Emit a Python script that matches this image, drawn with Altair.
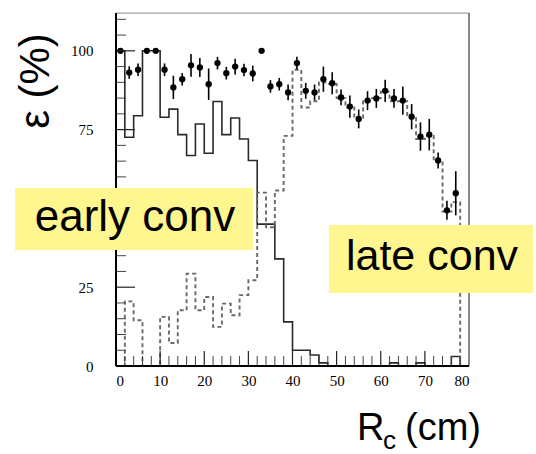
import altair as alt
import pandas as pd

# Histogram bins of 2 cm in conversion radius
bin_lo = list(range(0, 80, 2))

# Early-conversion efficiency per bin (%), solid histogram
early_conv = [100, 72.6, 79.4, 100, 100, 78.9, 81.5, 73.4, 66.8, 76.8,
              67.5, 83.9, 73.4, 78.7, 72.0, 65.2, 45.0, 45.0, 34.0, 14.0,
              5.0, 5.0, 3.5, 1.0, 0, 0, 0, 0, 0, 0,
              0, 1.0, 0, 0, 1.0, 0, 0, 0, 3.0, 0]

# Late-conversion efficiency per bin (%), dashed histogram
late_conv = [0, 20.5, 14.5, 0, 0, 15.6, 7.3, 17.7, 29.3, 17.7,
             21.9, 12.4, 19.8, 16.1, 22.5, 27.2, 55.0, 44.0, 55.7, 73.0,
             94.0, 82.0, 84.0, 90.0, 89.5, 85.0, 82.0, 78.5, 84.0, 85.0,
             87.0, 84.0, 84.0, 79.0, 72.0, 73.0, 65.0, 49.0, 52.0, 0]

# Total efficiency at bin centres with statistical errors (%)
pt_r = list(range(1, 79, 2))
eff = [100, 93.1, 94.0, 100, 100, 94.0, 88.4, 91.0, 95.4, 94.7,
       89.4, 96.1, 92.9, 95.0, 93.9, 92.8, 100, 88.7, 89.4, 86.8,
       96.1, 87.3, 86.8, 91.0, 89.7, 85.2, 82.3, 78.4, 84.2, 84.9,
       87.3, 84.9, 84.2, 79.1, 72.8, 73.4, 65.2, 49.4, 54.8]
eff_err = [0, 2.0, 2.0, 0, 0, 2.0, 3.7, 2.0, 3.6, 3.0,
           5.0, 2.0, 2.0, 2.5, 2.0, 2.5, 0, 2.0, 2.0, 2.5,
           2.0, 2.5, 2.5, 4.0, 3.5, 2.5, 3.5, 3.0, 3.0, 3.0,
           3.5, 3.0, 4.5, 4.0, 4.5, 5.0, 2.5, 3.0, 7.0]

# The 50 label sits under the "early conv" box, so only these are shown
y_labels = [0, 25, 75, 100]
x_labels = [0, 10, 20, 30, 40, 50, 60, 70, 80]
y_major = [0, 25, 50, 75, 100]
y_minor = [v for v in range(0, 115, 5) if v % 25 != 0]
x_major = [0, 10, 20, 30, 40, 50, 60, 70, 80]
x_minor = [v for v in range(0, 81, 2) if v % 10 != 0]

box_labels = ["early conv", "late conv"]

W, H = 353, 353
serif = "Liberation Serif"
sans = "Liberation Sans"

xs = alt.Scale(domain=[0, 80], nice=False, zero=False)
ys = alt.Scale(domain=[0, 112], nice=False, zero=False)

x_axis = alt.Axis(values=x_labels, ticks=False, domain=False, grid=False,
                  labelFont=serif, labelFontSize=15, labelPadding=7,
                  labelColor="black", title=None)
y_axis = alt.Axis(values=y_labels, ticks=False, domain=False, grid=False,
                  labelFont=serif, labelFontSize=15, labelPadding=23,
                  labelColor="black", title=None)


def step_frame(vals):
    return pd.DataFrame({"r": bin_lo + [80], "v": vals + [vals[-1]]})


early_line = alt.Chart(step_frame(early_conv)).mark_line(
    interpolate="step-after", color="#2a2a2a", strokeWidth=1.6
).encode(
    x=alt.X("r:Q", scale=xs, axis=x_axis),
    y=alt.Y("v:Q", scale=ys, axis=y_axis),
)

late_line = alt.Chart(step_frame(late_conv)).mark_line(
    interpolate="step-after", color="#6a6a6a", strokeWidth=1.9,
    strokeDash=[4, 3]
).encode(
    x=alt.X("r:Q", scale=xs),
    y=alt.Y("v:Q", scale=ys),
)

pts = pd.DataFrame({"r": pt_r, "e": eff, "err": eff_err})
pts["lo"] = pts["e"] - pts["err"]
pts["hi"] = pts["e"] + pts["err"]

err_bars = alt.Chart(pts).mark_rule(color="black", strokeWidth=1.6).encode(
    x=alt.X("r:Q", scale=xs),
    y=alt.Y("lo:Q", scale=ys),
    y2="hi:Q",
)
dots = alt.Chart(pts).mark_circle(color="black", opacity=1, size=40).encode(
    x=alt.X("r:Q", scale=xs),
    y=alt.Y("e:Q", scale=ys),
)

# Inward-pointing ticks along the left and bottom edges
ytick_major = alt.Chart(pd.DataFrame({"t": y_major})).mark_rule(
    color="#222", strokeWidth=1.2
).encode(y=alt.Y("t:Q", scale=ys), x=alt.value(0), x2=alt.value(19))
ytick_minor = alt.Chart(pd.DataFrame({"t": y_minor})).mark_rule(
    color="#444", strokeWidth=1.0
).encode(y=alt.Y("t:Q", scale=ys), x=alt.value(0), x2=alt.value(10))
xtick_major = alt.Chart(pd.DataFrame({"t": x_major})).mark_rule(
    color="#222", strokeWidth=1.2
).encode(x=alt.X("t:Q", scale=xs), y=alt.value(H), y2=alt.value(H - 15))
xtick_minor = alt.Chart(pd.DataFrame({"t": x_minor})).mark_rule(
    color="#444", strokeWidth=1.0
).encode(x=alt.X("t:Q", scale=xs), y=alt.value(H), y2=alt.value(H - 10))

# Frame
one = pd.DataFrame({"k": [0]})
frame_left = alt.Chart(one).mark_rule(color="black", strokeWidth=2).encode(
    x=alt.value(0), y=alt.value(0), y2=alt.value(H))
frame_bottom = alt.Chart(one).mark_rule(color="black", strokeWidth=2).encode(
    x=alt.value(0), x2=alt.value(W), y=alt.value(H))
frame_top = alt.Chart(one).mark_rule(color="#999", strokeWidth=1).encode(
    x=alt.value(0), x2=alt.value(W), y=alt.value(0))
frame_right = alt.Chart(one).mark_rule(color="#888", strokeWidth=2).encode(
    x=alt.value(W), y=alt.value(0), y2=alt.value(H))

# Yellow callout boxes
box_fill = "#FFF68F"
early_box = alt.Chart(one).mark_rect(color=box_fill).encode(
    x=alt.value(-101), x2=alt.value(137), y=alt.value(175), y2=alt.value(237))
late_box = alt.Chart(one).mark_rect(color=box_fill).encode(
    x=alt.value(213), x2=alt.value(417), y=alt.value(212), y2=alt.value(280))

early_txt = alt.Chart(pd.DataFrame({"t": [box_labels[0]]})).mark_text(
    font=sans, fontSize=44, color="black", align="center", baseline="middle"
).encode(text="t:N", x=alt.value(19), y=alt.value(205))
late_txt = alt.Chart(pd.DataFrame({"t": [box_labels[1]]})).mark_text(
    font=sans, fontSize=43, color="black", align="center", baseline="middle"
).encode(text="t:N", x=alt.value(316), y=alt.value(244))

# Axis titles
y_title = alt.Chart(pd.DataFrame({"t": ["ε  (%)"]})).mark_text(
    font=sans, fontSize=42, color="black", align="center", baseline="middle",
    angle=270
).encode(text="t:N", x=alt.value(-80), y=alt.value(68))
x_title_r = alt.Chart(pd.DataFrame({"t": ["R"]})).mark_text(
    font=sans, fontSize=38, color="black", align="left", baseline="alphabetic"
).encode(text="t:N", x=alt.value(241), y=alt.value(427))
x_title_c = alt.Chart(pd.DataFrame({"t": ["c"]})).mark_text(
    font=sans, fontSize=26, color="black", align="left", baseline="alphabetic"
).encode(text="t:N", x=alt.value(267), y=alt.value(436))
x_title_cm = alt.Chart(pd.DataFrame({"t": ["(cm)"]})).mark_text(
    font=sans, fontSize=38, color="black", align="left", baseline="alphabetic"
).encode(text="t:N", x=alt.value(289), y=alt.value(427))

chart = alt.layer(
    early_line, late_line, err_bars, dots,
    ytick_major, ytick_minor, xtick_major, xtick_minor,
    frame_top, frame_right, frame_left, frame_bottom,
    early_box, late_box, early_txt, late_txt,
    y_title, x_title_r, x_title_c, x_title_cm,
).properties(
    width=W, height=H,
    autosize=alt.AutoSizeParams(type="none"),
    padding={"left": 116, "top": 13, "right": 67, "bottom": 88},
).configure_view(stroke=None).configure(background="white")

chart.save("out.html", embed_options={"renderer": "svg", "actions": False})
